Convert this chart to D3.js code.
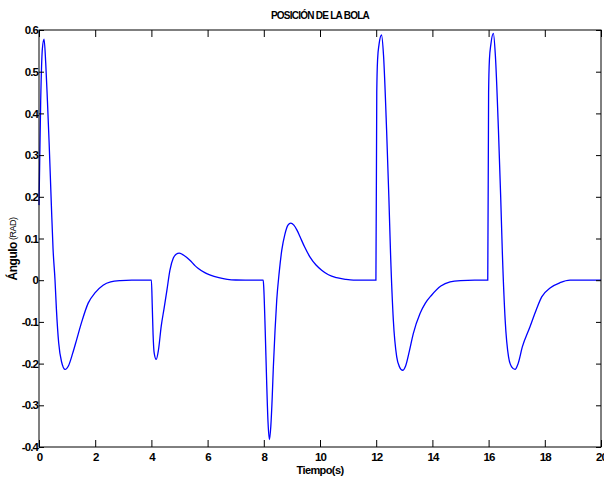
<!DOCTYPE html>
<html><head><meta charset="utf-8">
<script src="https://cdn.jsdelivr.net/npm/d3@7"></script>
<style>body{margin:0;background:#fff}svg{display:block}</style>
</head><body>
<script>
const title = "POSICIÓN DE LA BOLA";
const xLabel = "Tiempo(s)";
const xTicks = [0, 2, 4, 6, 8, 10, 12, 14, 16, 18, 20];
const yTicks = [-0.4, -0.3, -0.2, -0.1, 0, 0.1, 0.2, 0.3, 0.4, 0.5, 0.6];
const yTickLabels = ["-0.4","-0.3","-0.2","-0.1","0","0.1","0.2","0.3","0.4","0.5","0.6"];

const time = [
  0, 0.06, 0.12, 0.18, 0.24, 0.3, 0.36, 0.44, 0.5, 0.57, 0.62, 0.7, 0.8, 0.93, 1.05, 1.2, 1.35, 1.52, 1.75, 2.0, 2.28, 2.55, 2.9, 3.3, 4.0,
  4.03, 4.06, 4.1, 4.17, 4.25, 4.35, 4.45, 4.55, 4.66, 4.78, 4.88, 4.99, 5.1, 5.25, 5.37, 5.55, 5.67, 5.9, 6.1, 6.4, 6.7, 7.0, 7.98,
  8.0, 8.05, 8.1, 8.15, 8.2, 8.25, 8.3, 8.34, 8.4, 8.46, 8.55, 8.64, 8.75, 8.86, 8.96, 9.07, 9.18, 9.29, 9.45, 9.64, 9.85, 10.06, 10.3, 10.59, 10.9, 11.19, 11.99,
  12.02, 12.05, 12.1, 12.19, 12.26, 12.37, 12.45, 12.51, 12.61, 12.73, 12.83, 12.94, 13.05, 13.18, 13.32, 13.56, 13.75, 13.97, 14.3, 14.63, 15.0, 15.5, 15.97,
  16.0, 16.03, 16.08, 16.17, 16.24, 16.35, 16.43, 16.49, 16.59, 16.71, 16.82, 16.94, 17.05, 17.2, 17.47, 17.7, 17.89, 18.2, 18.54, 18.9, 20
];
const angle = [
  0.18, 0.43, 0.555, 0.578, 0.52, 0.43, 0.33, 0.18, 0.075, 0, -0.07, -0.15, -0.195, -0.214, -0.205, -0.175, -0.14, -0.1, -0.055, -0.03, -0.012, -0.004, -0.001, 0, 0,
  -0.06, -0.13, -0.175, -0.19, -0.168, -0.11, -0.068, -0.025, 0.024, 0.053, 0.062, 0.065, 0.062, 0.055, 0.048, 0.035, 0.028, 0.018, 0.012, 0.006, 0.002, 0.0005, 0,
  -0.02, -0.12, -0.24, -0.34, -0.382, -0.35, -0.28, -0.208, -0.12, -0.048, 0.02, 0.072, 0.11, 0.132, 0.137, 0.132, 0.12, 0.104, 0.08, 0.056, 0.037, 0.024, 0.013, 0.006, 0.002, 0, 0,
  0.45, 0.53, 0.565, 0.588, 0.54, 0.36, 0.2, 0.065, -0.096, -0.184, -0.208, -0.216, -0.205, -0.17, -0.128, -0.08, -0.055, -0.036, -0.014, -0.004, -0.001, 0, 0,
  0.45, 0.53, 0.565, 0.592, 0.54, 0.36, 0.2, 0.065, -0.096, -0.184, -0.208, -0.214, -0.2, -0.16, -0.112, -0.07, -0.04, -0.018, -0.006, 0, 0
];

const W = 604, H = 477;
const m = {left: 39, right: 3, top: 30, bottom: 30};
const svg = d3.select("body").append("svg").attr("width", W).attr("height", H);
const x = d3.scaleLinear().domain([0, 20]).range([m.left, W - m.right]);
const y = d3.scaleLinear().domain([-0.4, 0.6]).range([H - m.bottom, m.top]);
const font = "Arial, 'Liberation Sans', sans-serif";

const data = time.map((t, i) => [t, angle[i]]);
const line = d3.line().x(d => x(d[0])).y(d => y(d[1])).curve(d3.curveMonotoneX);
svg.append("path").datum(data).attr("d", line)
  .attr("fill", "none").attr("stroke", "#0000ff").attr("stroke-width", 1.3);

// box
svg.append("rect").attr("x", m.left).attr("y", m.top)
  .attr("width", W - m.left - m.right).attr("height", H - m.top - m.bottom)
  .attr("fill", "none").attr("stroke", "#000").attr("stroke-width", 1);

// axes
const xAxis = d3.axisBottom(x).tickValues(xTicks).tickSizeInner(-7).tickSizeOuter(0).tickPadding(14);
const gx = svg.append("g").attr("transform", `translate(0,${H - m.bottom})`).call(xAxis);
const xTop = d3.axisTop(x).tickValues(xTicks).tickSizeInner(-7).tickSizeOuter(0).tickFormat("");
const gxt = svg.append("g").attr("transform", `translate(0,${m.top})`).call(xTop);
const yAxis = d3.axisLeft(y).tickValues(yTicks).tickSizeInner(-5).tickSizeOuter(0).tickPadding(1)
  .tickFormat((d, i) => yTickLabels[i]);
const gy = svg.append("g").attr("transform", `translate(${m.left},0)`).call(yAxis);
const yRight = d3.axisRight(y).tickValues(yTicks).tickSizeInner(-5).tickSizeOuter(0).tickFormat("");
const gyr = svg.append("g").attr("transform", `translate(${W - m.right},0)`).call(yRight);

[gx, gxt, gy, gyr].forEach(g => {
  g.select(".domain").remove();
  g.selectAll("line").attr("stroke", "#000");
  g.selectAll("text").attr("font-family", font).attr("font-weight", "bold")
    .attr("font-size", 11.5).attr("letter-spacing", -0.9).attr("fill", "#000");
});
gx.selectAll("text").attr("dy", 0);

// title
svg.append("text").attr("x", 320).attr("y", 19).attr("text-anchor", "middle")
  .attr("font-family", font).attr("font-weight", "bold").attr("font-size", 10)
  .attr("letter-spacing", -0.75).text(title);

// x label
svg.append("text").attr("x", 320).attr("y", 474).attr("text-anchor", "middle")
  .attr("font-family", font).attr("font-weight", "bold").attr("font-size", 11)
  .attr("letter-spacing", -0.6).text(xLabel);

// y label
const yl = svg.append("text").attr("transform", "translate(17,249) rotate(-90)")
  .attr("text-anchor", "middle").attr("font-family", font).attr("font-weight", "bold")
  .attr("font-size", 12).attr("letter-spacing", -0.5);
yl.append("tspan").text("Ángulo");
yl.append("tspan").attr("font-size", 9).attr("font-weight", "normal").attr("dx", 2).attr("dy", -1).text("(RAD)");
</script>
</body></html>
